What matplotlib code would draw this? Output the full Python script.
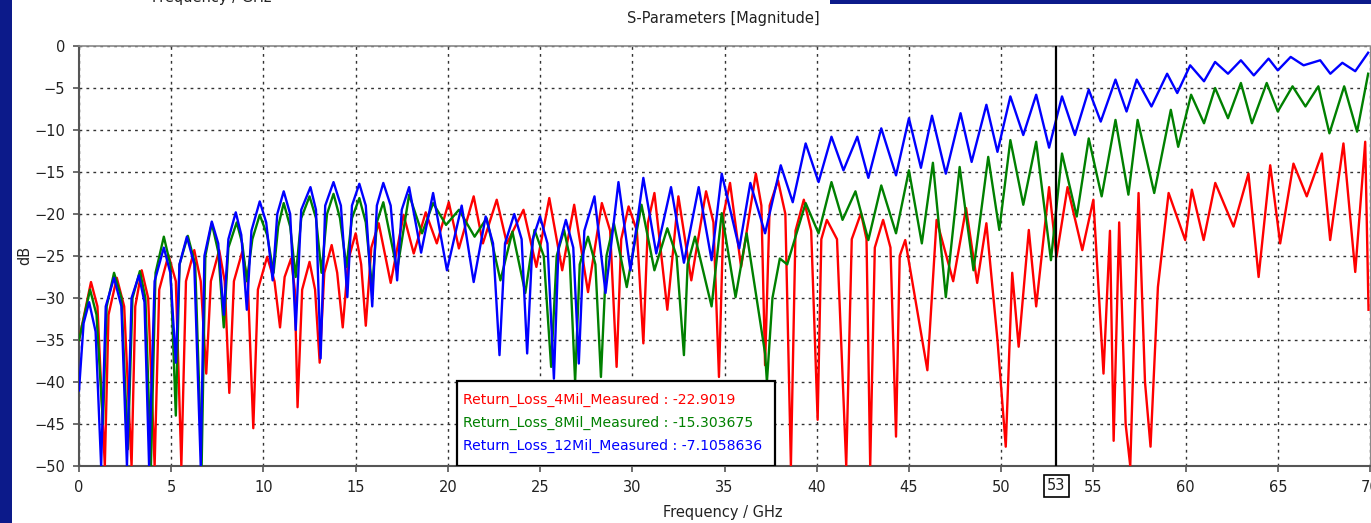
import matplotlib
matplotlib.use("Agg")
import matplotlib.pyplot as plt
from matplotlib.patches import Rectangle
import matplotlib.transforms as mtransforms

# ---------------- data ----------------
red_pts = [(0,-35),(0.65,-28.1),(1.0,-31),(1.4,-50),(1.6,-32),(2.05,-27.6),(2.45,-31),(2.85,-50),(3.05,-31),
           (3.4,-26.7),(3.75,-30),(4.1,-50),(4.35,-29),(4.85,-24.9),(5.25,-28),(5.55,-50),(5.8,-28),(6.25,-24.3),
           (6.6,-28),(6.9,-39),(7.15,-28),(7.6,-24.3),(7.9,-28),(8.15,-41.3),(8.4,-28),(8.85,-24.5),(9.15,-28),
           (9.45,-45.5),(9.7,-29),(10.2,-25.1),(10.6,-28),(10.9,-33.5),(11.15,-27.5),(11.5,-25.3),(11.7,-29),
           (11.85,-43),(12.1,-29),(12.5,-25.7),(12.8,-29),(13.05,-37.7),(13.3,-27),(13.7,-23.7),(14.0,-27),
           (14.3,-33.5),(14.6,-25.5),(15.0,-22.3),(15.3,-26),(15.55,-33.3),(15.85,-24),(16.25,-21.1),
           (16.9,-28.2),(17.6,-20.1),(18.15,-24.7),(18.8,-19.8),(19.4,-23.5),(20.05,-18.6),
           (20.6,-24.1),(21.4,-17.9),(21.9,-23.5),(22.65,-18.3),(23.2,-23.5),(24.1,-19.5),(24.8,-26.3),(25.5,-18.1),
           (26.2,-26.7),(26.85,-18.9),(27.6,-29.3),(28.35,-18.7),(28.8,-22),(29.15,-38.2),(29.4,-23),(29.8,-19.1),
           (30.25,-22),(30.6,-35.4),(30.85,-21),(31.2,-17.5),(31.9,-31.4),(32.5,-17.9),(33.2,-27.9),(34.0,-17.3),
           (34.4,-21),(34.7,-39.4),(34.95,-20),(35.3,-16.3),(35.9,-26.3),(36.7,-15.2),(37.0,-19),(37.2,-38),
           (37.45,-19),(37.9,-16),(38.3,-20),(38.6,-50),(38.85,-22),(39.3,-18.3),(39.7,-22),(40.05,-44.5),
           (40.25,-23),(40.55,-20.7),(41.1,-23),(41.6,-50),(41.9,-23),(42.4,-19.9),(42.7,-23),(42.9,-50),
           (43.15,-24),(43.6,-20.7),(44.0,-24),(44.3,-46.5),(44.5,-25),(44.8,-23.1),(46.0,-38.6),(46.5,-20.7),
           (47.4,-28),(48.1,-19.3),(48.7,-28.2),(49.2,-21.1),(49.8,-35),(50.25,-47.7),(50.6,-27),(50.95,-35.8),
           (51.5,-21.9),(51.9,-31),(52.6,-16.8),(53.0,-25.1),(53.6,-16.8),(54.4,-24.3),(55.0,-18.3),(55.55,-39),
           (55.9,-22),(56.1,-47),(56.4,-21),(56.75,-45),(57.0,-50),(57.45,-17.5),(57.8,-40),(58.1,-47.7),
           (58.5,-28.7),(59.08,-17.5),(59.98,-23.1),(60.34,-17.1),(60.98,-23.1),(61.61,-16.3),(62.6,-21.5),
           (63.41,-15.2),(63.96,-27.5),(64.59,-14.2),(65.13,-23.5),(65.85,-14.0),(66.57,-17.9),(67.39,-12.8),
           (67.84,-23.1),(68.56,-11.6),(69.2,-26.9),(69.74,-11.4),(69.92,-31.4)]

green_pts = [(0,-35),(0.6,-29),(0.95,-32),(1.3,-45),(1.5,-31),(1.9,-27),(2.3,-30),(2.65,-48),(2.9,-30),
             (3.3,-26.8),(3.6,-30),(3.9,-50),(4.15,-27),(4.6,-22.7),(4.95,-26),(5.25,-44),(5.45,-26),(5.9,-22.6),
             (6.3,-26),(6.65,-50),(6.85,-25),(7.2,-21.1),(7.55,-24.5),(7.85,-33.5),(8.1,-24),(8.55,-21),
             (8.85,-23.5),(9.1,-28),(9.4,-23),(9.8,-20.1),(10.2,-22.5),(10.55,-27),(10.8,-21.5),(11.1,-18.7),
             (11.45,-21.5),(11.75,-27.5),(12.05,-20.5),(12.5,-17.9),(12.85,-20.5),(13.15,-27),(13.45,-20),
             (13.8,-17.6),(14.15,-20.5),(14.5,-26.3),(14.8,-20.5),(15.2,-18.1),(15.55,-21),(15.9,-29),(16.15,-21),
             (16.5,-18.6),(17.25,-26.7),(17.9,-17.7),(18.6,-22.3),(19.2,-18.7),(19.9,-21.3),(20.6,-19.5),
             (21.45,-22.7),(22.1,-20.5),(22.85,-27.9),(23.5,-22.1),(24.2,-29.4),(24.7,-21.9),(25.2,-25),
             (25.6,-38.2),(25.9,-25),(26.3,-21.9),(26.6,-25),(26.9,-40),(27.15,-26),(27.6,-22.7),(28.0,-26),
             (28.3,-39.4),(28.6,-25),(29.0,-21.1),(29.7,-28.7),(30.5,-18.9),(31.2,-26.7),(31.9,-21.7),(32.4,-25),
             (32.8,-36.8),(33.0,-26),(33.4,-22.7),(34.3,-31),(34.85,-19.9),(35.6,-29.9),(36.2,-22.3),
             (37.2,-36.6),(37.3,-40),(37.6,-30),(38.0,-25.3),(38.4,-26),(39.4,-18.7),(40.1,-22.3),(40.8,-16.2),
             (41.4,-20.7),(42.1,-17.3),(42.8,-23.1),(43.5,-16.6),(44.3,-22.3),(45.0,-14.8),(45.7,-23.5),
             (46.3,-13.9),(47.0,-29.9),(47.75,-14.4),(48.5,-26.7),(49.3,-13.2),(49.9,-21.9),(50.5,-11.2),
             (51.2,-18.9),(51.9,-11.4),(52.7,-25.5),(53.3,-12.8),(54.1,-20.3),(54.75,-11.0),(55.45,-17.9),
             (56.2,-8.8),(56.9,-17.7),(57.4,-8.8),(58.3,-17.5),(59.2,-7.6),(59.6,-12),(60.3,-5.8),(61.0,-9.2),
             (61.6,-5.0),(62.3,-8.6),(63.0,-4.4),(63.6,-9.2),(64.4,-4.4),(65.0,-7.8),(65.8,-4.8),(66.5,-7.2),
             (67.2,-4.8),(67.8,-10.4),(68.6,-4.8),(69.3,-10.2),(69.9,-3.3)]

blue_pts = [(0,-41),(0.25,-33),(0.55,-30.5),(0.9,-34),(1.2,-50),(1.45,-31),(1.9,-27.6),(2.3,-31),(2.6,-50),
            (2.85,-30),(3.25,-27.3),(3.55,-30.5),(3.8,-50),(4.1,-28),(4.6,-24),(4.95,-27),(5.25,-37.7),
            (5.45,-26),(5.85,-22.7),(6.25,-26),(6.6,-50),(6.8,-25),(7.2,-20.9),(7.55,-23.5),(7.85,-32),(8.1,-23),
            (8.5,-19.8),(8.8,-22.5),(9.1,-31.4),(9.35,-22),(9.8,-18.5),(10.15,-21),(10.5,-27.9),(10.75,-20),
            (11.1,-17.3),(11.45,-20),(11.75,-33.8),(12.05,-19.5),(12.55,-16.8),(12.85,-19.5),(13.1,-37.2),
            (13.35,-19),(13.8,-16.2),(14.2,-19),(14.55,-29.9),(14.8,-19),(15.2,-16.4),(15.55,-19),(15.9,-31),
            (16.15,-19),(16.5,-16.3),(16.9,-19),(17.25,-27.9),(17.5,-19.5),(17.9,-16.8),(18.55,-24.6),
            (19.2,-17.5),(19.95,-26.7),(20.75,-19),(21.4,-28.1),(22.05,-20.3),(22.45,-23.5),(22.8,-36.8),
            (23.1,-23.5),(23.6,-20),(24.0,-23),(24.3,-36.6),(24.6,-23),(25.0,-20.3),(25.4,-23.5),(25.75,-39.6),
            (26.0,-24),(26.4,-20.7),(26.8,-24),(27.1,-37.8),(27.4,-22),(27.95,-17.9),(28.55,-29.4),(29.25,-16.2),
            (29.9,-26.7),(30.6,-15.7),(31.3,-24.7),(32.1,-16.8),(32.8,-25.8),(33.6,-16.8),(34.3,-25.5),
            (34.85,-15.2),(35.8,-24.1),(36.4,-16.3),(37.2,-22.3),(38.05,-14.2),(38.7,-18.6),(39.4,-11.6),
            (40.1,-16.2),(40.8,-10.8),(41.45,-14.8),(42.2,-10.8),(42.8,-15.7),(43.5,-9.8),(44.3,-15.4),
            (45.0,-8.6),(45.65,-14.5),(46.25,-8.3),(47.0,-15.2),(47.8,-8.0),(48.4,-13.8),(49.2,-7.0),
            (49.8,-12.6),(50.5,-6.0),(51.2,-10.6),(51.9,-5.8),(52.6,-12.1),(53.3,-6.0),(54.0,-10.6),(54.75,-5.2),
            (55.4,-9.0),(56.2,-4.0),(56.8,-7.8),(57.35,-4.0),(58.15,-7.2),(59.0,-3.3),(59.55,-5.6),(60.25,-2.3),
            (61.0,-4.2),(61.6,-1.9),(62.3,-3.3),(63.0,-1.7),(63.7,-3.5),(64.5,-1.5),(65.0,-2.9),(65.7,-1.3),
            (66.4,-2.3),(67.3,-1.7),(67.85,-3.3),(68.5,-2.0),(69.2,-3.0),(69.9,-0.8)]

series_names = ["Return_Loss_4Mil_Measured", "Return_Loss_8Mil_Measured", "Return_Loss_12Mil_Measured"]
marker_values = ["-22.9019", "-15.303675", "-7.1058636"]
marker_freq = 53
x_ticks = list(range(0, 75, 5))
y_ticks = list(range(-50, 5, 5))

# ---------------- figure ----------------
W, H = 1371, 523
fig = plt.figure(figsize=(W / 100, H / 100), dpi=100)
fig.patch.set_facecolor("white")

def px_box(x0, y0, x1, y1):
    return [x0 / W, 1 - y1 / H, (x1 - x0) / W, (y1 - y0) / H]

ax = fig.add_axes(px_box(79, 46, 1370, 466))
ax.set_xlim(0, 70)
ax.set_ylim(-50, 0)

colors = ["#FF0000", "#008000", "#0000FF"]
for pts, c in zip([red_pts, green_pts, blue_pts], colors):
    xs = [p[0] for p in pts]
    ys = [p[1] for p in pts]
    ax.plot(xs, ys, color=c, lw=1.7, solid_joinstyle="round", zorder=3)

# grid
ax.set_xticks(x_ticks)
ax.set_yticks(y_ticks)
ax.grid(True, color="#333333", linestyle=(0, (2, 3)), lw=1.0, zorder=1)
ax.tick_params(direction="out", length=4, width=1.2, colors="#555555", labelcolor="#222222",
               labelsize=10.5, pad=6)
for s in ["left", "bottom"]:
    ax.spines[s].set_color("#555555")
    ax.spines[s].set_linewidth(1.5)
ax.spines["top"].set_color("#888888")
ax.spines["top"].set_linewidth(1.2)
ax.spines["right"].set_color("#888888")

# marker line
ax.axvline(marker_freq, color="black", lw=1.6, zorder=4)
trans = mtransforms.blended_transform_factory(ax.transData, fig.transFigure)
ax.text(marker_freq, 1 - 486 / H, str(marker_freq), transform=trans, ha="center", va="center",
        fontsize=10.5, color="#222222",
        bbox=dict(boxstyle="square,pad=0.25", fc="white", ec="black", lw=1.2), clip_on=False)

# legend box with marker values
x0 = (457 - 79) / 18.45
x1 = (775 - 79) / 18.45
ytop = -(381 - 46) / 8.4
ax.add_patch(Rectangle((x0, -50), x1 - x0, ytop + 50, fc="white", ec="black", lw=1.6, zorder=5))
line_y = [-(400 - 46) / 8.4, -(423 - 46) / 8.4, -(446 - 46) / 8.4]
for name, val, c, yy in zip(series_names, marker_values, colors, line_y):
    ax.text(x0 + 0.35, yy, f"{name} : {val}", color=c, fontsize=10.1, va="center", ha="left", zorder=6)

# labels
fig.text(723 / W, 1 - 512 / H, "Frequency / GHz", ha="center", va="center", fontsize=10.5, color="#222222")
fig.text(25 / W, 1 - 255 / H, "dB", ha="center", va="center", rotation=90, fontsize=10.5, color="#222222")
fig.text(723 / W, 1 - 19 / H, "S-Parameters [Magnitude]", ha="center", va="center", fontsize=10.5,
         color="#222222")
# partially visible label at the top edge (cropped screenshot)
fig.text(212 / W, 1 - 2 / H, "Frequency / GHz", ha="center", va="baseline", fontsize=10.5, color="#222222")

# decorative bars of the screenshot frame
navy = "#0C1A8A"
fig.add_artist(Rectangle((0, 0), 12 / W, 1, transform=fig.transFigure, fc=navy, ec="none"))
fig.add_artist(Rectangle((830 / W, 1 - 3.5 / H), 1 - 830 / W, 3.5 / H, transform=fig.transFigure,
                         fc=navy, ec="none"))

fig.savefig("out.png", dpi=100, facecolor="white")
